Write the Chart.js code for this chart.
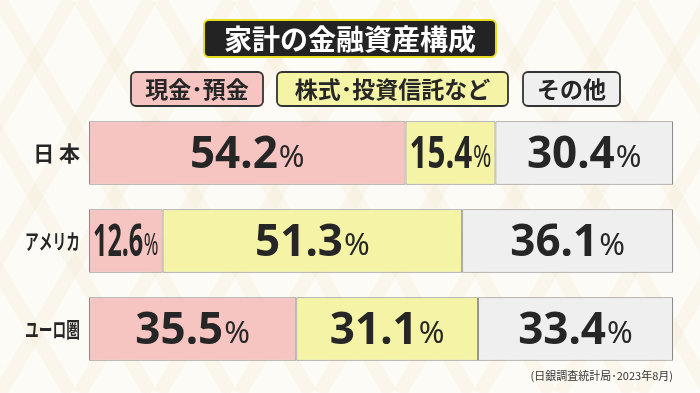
<!DOCTYPE html>
<html>
<head>
<meta charset="utf-8">
<script src="https://cdn.jsdelivr.net/npm/chart.js@4.4.0/dist/chart.umd.min.js"></script>
<style>
  html, body { margin: 0; padding: 0; background: #fcfaf4; }
  #wrap { width: 700px; height: 393px; position: relative; }
</style>
</head>
<body>
<div id="wrap"><canvas id="grafica" width="700" height="393"></canvas></div>
<script>
// Datos del gráfico
const regiones = ['日 本', 'アメリカ', 'ユーロ圏'];
const seriesNombres = ['現金･預金', '株式･投資信託など', 'その他'];
const efectivo = [54.2, 12.6, 35.5];
const acciones = [15.4, 51.3, 31.1];
const otros = [30.4, 36.1, 33.4];

const titulo = '家計の金融資産構成';
const fuente = '(日銀調査統計局･2023年8月)';

const colores = ['#f6c5c1', '#f4f3a6', '#efefef'];
const jp = '"Noto Sans CJK JP", "Noto Sans", sans-serif';

// Fondo con un patrón suave
const fondo = {
  id: 'fondo',
  beforeDraw(chart) {
    const ctx = chart.ctx;
    ctx.save();
    ctx.fillStyle = '#fdfbf6';
    ctx.fillRect(0, 0, chart.width, chart.height);
    ctx.strokeStyle = 'rgba(240, 228, 200, 0.22)';
    ctx.lineWidth = 14;
    for (let x = -400; x < 1100; x += 80) {
      ctx.beginPath();
      ctx.moveTo(x, 0);
      ctx.lineTo(x + 230, 393);
      ctx.stroke();
      ctx.beginPath();
      ctx.moveTo(x + 230, 0);
      ctx.lineTo(x, 393);
      ctx.stroke();
    }
    ctx.restore();
  }
};

function cajaRedondeada(ctx, x, y, w, h, r) {
  ctx.beginPath();
  ctx.moveTo(x + r, y);
  ctx.arcTo(x + w, y, x + w, y + h, r);
  ctx.arcTo(x + w, y + h, x, y + h, r);
  ctx.arcTo(x, y + h, x, y, r);
  ctx.arcTo(x, y, x + w, y, r);
  ctx.closePath();
}

// Título, leyenda, etiquetas y fuente
const textos = {
  id: 'textos',
  afterDatasetsDraw(chart) {
    const ctx = chart.ctx;
    const yScale = chart.scales.y;
    ctx.save();

    // título
    cajaRedondeada(ctx, 204, 20, 292, 37, 5);
    ctx.fillStyle = '#232323';
    ctx.fill();
    ctx.lineWidth = 2;
    ctx.strokeStyle = '#e8dc1e';
    ctx.stroke();
    ctx.fillStyle = '#ffffff';
    ctx.font = 'bold 28px ' + jp;
    ctx.textAlign = 'center';
    ctx.textBaseline = 'middle';
    ctx.fillText(titulo, 350, 39);

    // leyenda
    const cajas = [[131, 132], [277, 231], [523, 97]];
    chart.data.datasets.forEach((ds, i) => {
      const [bx, bw] = cajas[i];
      cajaRedondeada(ctx, bx, 72, bw, 34, 5);
      ctx.fillStyle = ds.backgroundColor;
      ctx.fill();
      ctx.lineWidth = 1.8;
      ctx.strokeStyle = '#333';
      ctx.stroke();
      ctx.fillStyle = '#262626';
      ctx.font = 'bold 23px ' + jp;
      ctx.fillText(ds.label, bx + bw / 2, 89);
    });

    // nombres de regiones
    ctx.textAlign = 'right';
    ctx.font = 'bold 21px ' + jp;
    chart.data.labels.forEach((lab, i) => {
      const y = yScale.getPixelForValue(i);
      const w = ctx.measureText(lab).width;
      const maxW = 55;
      ctx.save();
      ctx.translate(80, y);
      if (w > maxW) ctx.scale(maxW / w, 1);
      ctx.fillText(lab, 0, 0);
      ctx.restore();
    });

    // valores
    chart.data.datasets.forEach((ds, di) => {
      const meta = chart.getDatasetMeta(di);
      meta.data.forEach((bar, k) => {
        const valor = ds.data[k].toFixed(1);
        const cx = (bar.x + bar.base) / 2;
        const ancho = Math.abs(bar.x - bar.base);
        ctx.font = 'bold 44px "Noto Sans", sans-serif';
        const wNum = ctx.measureText(valor).width;
        ctx.font = '31px "Noto Sans", sans-serif';
        const wPct = ctx.measureText('%').width;
        const total = wNum + 1 + wPct;
        let s = 1;
        if (total > ancho - 8) s = (ancho - 8) / total;
        ctx.save();
        ctx.translate(cx, bar.y + 2);
        ctx.scale(s, 1);
        ctx.fillStyle = '#262626';
        ctx.textAlign = 'left';
        ctx.textBaseline = 'middle';
        ctx.font = 'bold 44px "Noto Sans", sans-serif';
        ctx.fillText(valor, -total / 2, 0);
        ctx.font = '31px "Noto Sans", sans-serif';
        ctx.fillText('%', -total / 2 + wNum + 1, 3);
        ctx.restore();
      });
    });

    // fuente
    ctx.textAlign = 'right';
    ctx.textBaseline = 'middle';
    ctx.fillStyle = '#333';
    ctx.font = '11px ' + jp;
    ctx.fillText(fuente, 673, 376);
    ctx.restore();
  }
};

const series = [efectivo, acciones, otros];

new Chart(document.getElementById('grafica').getContext('2d'), {
  type: 'bar',
  data: {
    labels: regiones,
    datasets: series.map((d, i) => ({
      label: seriesNombres[i],
      data: d,
      backgroundColor: colores[i],
      borderColor: '#8a8a8a',
      borderWidth: 1,
      borderSkipped: false,
      barPercentage: 0.72,
      categoryPercentage: 1
    }))
  },
  options: {
    indexAxis: 'y',
    responsive: false,
    animation: false,
    layout: {
      padding: { left: 89, right: 27, top: 109, bottom: 20 }
    },
    plugins: {
      legend: { display: false },
      tooltip: { enabled: false }
    },
    scales: {
      x: {
        stacked: true,
        min: 0,
        max: 100,
        display: false
      },
      y: {
        stacked: true,
        display: false
      }
    }
  },
  plugins: [fondo, textos]
});
</script>
</body>
</html>
